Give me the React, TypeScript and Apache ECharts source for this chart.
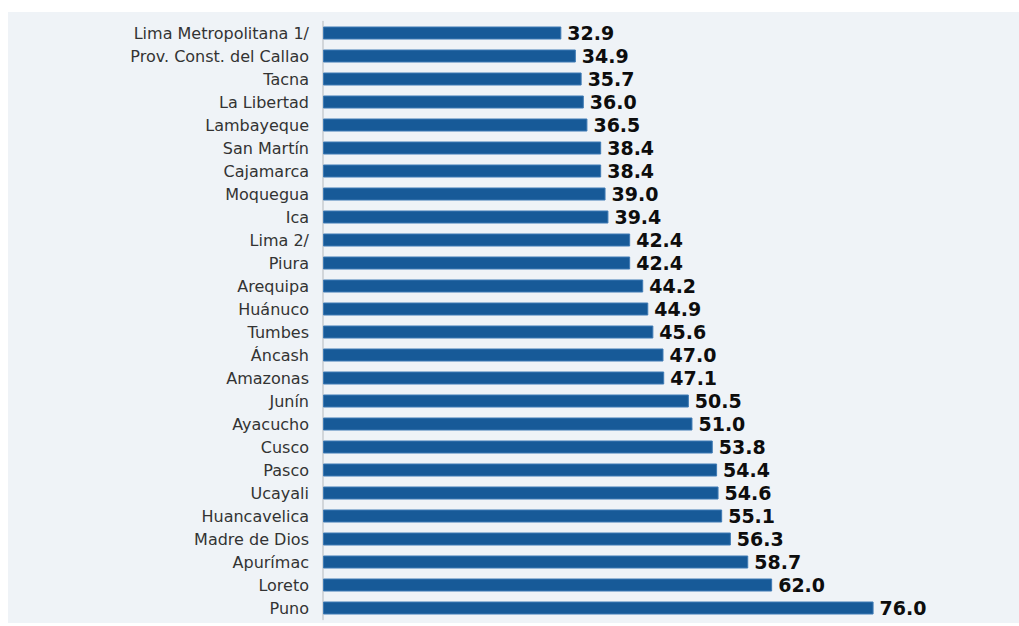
import React, { useEffect, useRef } from "react";
import * as echarts from "echarts";

const regions = [
  "Lima Metropolitana 1/",
  "Prov. Const. del Callao",
  "Tacna",
  "La Libertad",
  "Lambayeque",
  "San Martín",
  "Cajamarca",
  "Moquegua",
  "Ica",
  "Lima 2/",
  "Piura",
  "Arequipa",
  "Huánuco",
  "Tumbes",
  "Áncash",
  "Amazonas",
  "Junín",
  "Ayacucho",
  "Cusco",
  "Pasco",
  "Ucayali",
  "Huancavelica",
  "Madre de Dios",
  "Apurímac",
  "Loreto",
  "Puno",
];

const values = [
  32.9, 34.9, 35.7, 36.0, 36.5, 38.4, 38.4, 39.0, 39.4, 42.4, 42.4, 44.2, 44.9,
  45.6, 47.0, 47.1, 50.5, 51.0, 53.8, 54.4, 54.6, 55.1, 56.3, 58.7, 62.0, 76.0,
];

const xMax = 90;

export default function App() {
  const ref = useRef<HTMLDivElement>(null);

  useEffect(() => {
    if (!ref.current) return;
    const chart = echarts.init(ref.current, undefined, { renderer: "svg" });
    chart.setOption({
      animation: false,
      backgroundColor: "#ffffff",
      graphic: [
        {
          type: "rect",
          z: -10,
          silent: true,
          shape: { x: 8, y: 12, width: 1011, height: 611 },
          style: { fill: "#eff3f7" },
        },
      ],
      grid: { left: 323, right: 44, top: 21.5, bottom: 6.5, containLabel: false },
      xAxis: {
        type: "value",
        min: 0,
        max: xMax,
        show: false,
      },
      yAxis: {
        type: "category",
        data: regions,
        inverse: true,
        axisLine: { show: true, lineStyle: { color: "#c8ccd0", width: 1.5 } },
        axisTick: { show: false },
        axisLabel: {
          color: "#333333",
          fontSize: 16,
          fontFamily: "DejaVu Sans",
          margin: 14,
        },
      },
      series: [
        {
          type: "bar",
          data: values,
          barWidth: 13,
          itemStyle: { color: "#175a98", borderColor: "#3f7bb5", borderWidth: 1 },
          label: {
            show: true,
            position: "right",
            distance: 6,
            color: "#0d0d0d",
            fontSize: 19,
            fontWeight: "bold",
            fontFamily: "DejaVu Sans",
            formatter: (p: any) => Number(p.value).toFixed(1),
          },
        },
      ],
    });
    return () => chart.dispose();
  }, []);

  return (
    <div
      ref={ref}
      style={{ position: "fixed", left: 0, top: 0, width: 1019, height: 626 }}
    />
  );
}
